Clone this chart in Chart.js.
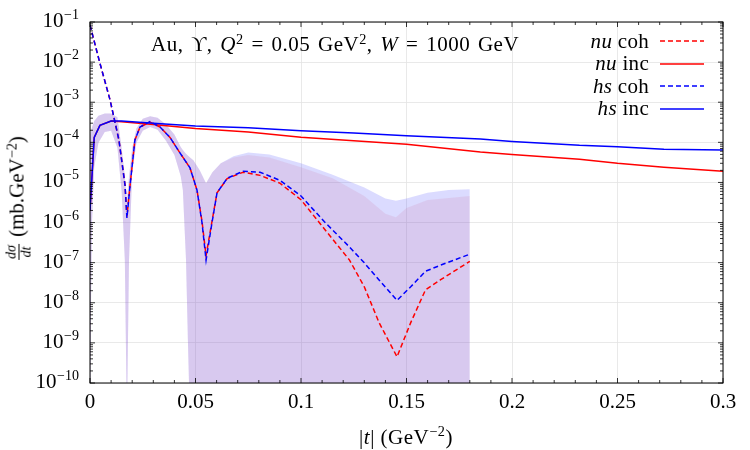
<!DOCTYPE html>
<html>
<head>
<meta charset="utf-8">
<script src="https://cdn.jsdelivr.net/npm/chart.js@4.4.1/dist/chart.umd.min.js"></script>
<style>
body { margin: 0; background: #fff; }
#wrap { position: relative; width: 750px; height: 450px; font-family: "Liberation Serif", serif; color: #000; }
canvas { position: absolute; left: 0; top: 0; }
.txt { position: absolute; white-space: nowrap; font-size: 21px; line-height: 1; }
sup { font-size: 0.68em; vertical-align: 0.5em; line-height: 0; }
#legend { position: absolute; right: 46px; top: 30px; }
.row { display: flex; align-items: center; justify-content: flex-end; height: 22.5px; font-size: 21px; letter-spacing: 0.3px; }
.row svg { margin-left: 11px; }
.frac { display: inline-flex; flex-direction: column; align-items: center; font-size: 14px; vertical-align: middle; margin-right: 7px; }
.frac .num { border-bottom: 1px solid #000; padding: 0 1px; }
</style>
</head>
<body>
<div id="wrap">
  <canvas id="chart" width="750" height="450"></canvas>
  <div class="txt" style="left:151px; top:34px; letter-spacing:0.5px; word-spacing:2px;">Au, ϒ, <i>Q</i><sup>2</sup> = 0.05 GeV<sup>2</sup>, <i>W</i> = 1000 GeV</div>
  <div id="legend">
    <div class="row"><span><i>nu</i> coh</span><svg width="44" height="4"><line x1="0" y1="2" x2="44" y2="2" stroke="#f00" stroke-width="1.5" stroke-dasharray="5,3"/></svg></div>
    <div class="row"><span><i>nu</i> inc</span><svg width="44" height="4"><line x1="0" y1="2" x2="44" y2="2" stroke="#f00" stroke-width="1.5"/></svg></div>
    <div class="row"><span><i>hs</i> coh</span><svg width="44" height="4"><line x1="0" y1="2" x2="44" y2="2" stroke="#00f" stroke-width="1.5" stroke-dasharray="5,3"/></svg></div>
    <div class="row"><span><i>hs</i> inc</span><svg width="44" height="4"><line x1="0" y1="2" x2="44" y2="2" stroke="#00f" stroke-width="1.5"/></svg></div>
  </div>
  <div class="txt" style="left:19px; top:198px; transform: translate(-50%,-50%) rotate(-90deg);"><span class="frac"><span class="num"><i>dσ</i></span><span><i>dt</i></span></span>(mb.GeV<sup>−2</sup>)</div>
  <div class="txt" style="left:406px; top:437px; letter-spacing:0.5px; transform: translate(-50%,-50%);">|<i>t</i>| (GeV<sup>−2</sup>)</div>
</div>
<script>
// axis ticks
const xTicks = [0, 0.05, 0.1, 0.15, 0.2, 0.25, 0.3];
const xTickLabels = ['0', '0.05', '0.1', '0.15', '0.2', '0.25', '0.3'];
const yExponents = [-10, -9, -8, -7, -6, -5, -4, -3, -2, -1];

// coherent curves (same |t| grid)
const tCoh = [0, 0.0047, 0.0095, 0.0137, 0.0166, 0.0175, 0.019, 0.0213, 0.0237, 0.0284, 0.0332, 0.0379, 0.0427, 0.0474, 0.0507, 0.0531, 0.055, 0.0578, 0.0602, 0.065, 0.0725, 0.0806, 0.09, 0.1, 0.111, 0.123, 0.13, 0.137, 0.1455, 0.152, 0.159, 0.166, 0.18];
const hsCoh = [8.4e-2, 9.4e-3, 1.14e-3, 1.15e-4, 8.6e-6, 1.3e-6, 8.6e-6, 1.15e-4, 2.4e-4, 3.3e-4, 2.4e-4, 1.33e-4, 5.4e-5, 2.3e-5, 6.5e-6, 9.8e-7, 1.16e-7, 9.8e-7, 5.5e-6, 1.27e-5, 1.9e-5, 1.8e-5, 1.13e-5, 4.6e-6, 1.06e-6, 2.45e-7, 9.9e-8, 3.7e-8, 1.15e-8, 2.5e-8, 6.1e-8, 8.6e-8, 1.63e-7];
const nuCoh = [8.4e-2, 9.4e-3, 1.14e-3, 1.15e-4, 8.6e-6, 1.42e-6, 8.6e-6, 1.15e-4, 2.4e-4, 3.2e-4, 2.4e-4, 1.33e-4, 5.4e-5, 2.3e-5, 6.5e-6, 1.06e-6, 1.5e-7, 1.06e-6, 5.5e-6, 1.25e-5, 1.8e-5, 1.5e-5, 9.6e-6, 3.7e-6, 7.0e-7, 1.16e-7, 2.5e-8, 3.2e-9, 4.5e-10, 3.2e-9, 2.1e-8, 3.7e-8, 1.08e-7];

// incoherent curves
const tInc = [0, 0.002, 0.0047, 0.01, 0.015, 0.03, 0.05, 0.075, 0.1, 0.125, 0.15, 0.185, 0.2, 0.232, 0.25, 0.272, 0.3];
const hsInc = [2.0e-6, 1.33e-4, 2.65e-4, 3.4e-4, 3.4e-4, 3.0e-4, 2.55e-4, 2.3e-4, 1.94e-4, 1.7e-4, 1.45e-4, 1.21e-4, 1.05e-4, 8.4e-5, 7.8e-5, 6.7e-5, 6.4e-5];
const nuInc = [2.0e-6, 1.33e-4, 2.65e-4, 3.4e-4, 3.25e-4, 2.8e-4, 2.2e-4, 1.8e-4, 1.33e-4, 1.1e-4, 9.0e-5, 5.75e-5, 5.0e-5, 3.8e-5, 3.0e-5, 2.4e-5, 1.9e-5];

// uncertainty bands
const tBand = [0, 0.0005, 0.001, 0.002, 0.004, 0.007, 0.01, 0.013, 0.015, 0.0165, 0.0175, 0.0185, 0.02, 0.022, 0.025, 0.0285, 0.032, 0.036, 0.04, 0.043, 0.044, 0.0455, 0.0464, 0.0474, 0.049, 0.052, 0.055, 0.058, 0.062, 0.068, 0.075, 0.085, 0.1, 0.115, 0.13, 0.14, 0.145, 0.15, 0.16, 0.17, 0.18];
const nuBandHi = [1.45e-4, 1.94e-4, 2.4e-4, 3.4e-4, 4.6e-4, 5.2e-4, 5.2e-4, 4.2e-4, 7.2e-5, 1.43e-5, 3.5e-6, 1.43e-5, 7.2e-5, 2.2e-4, 3.9e-4, 4.5e-4, 4.1e-4, 2.8e-4, 1.57e-4, 7.6e-5, 6.4e-5, 5.2e-5, 4.7e-5, 4.2e-5, 3.6e-5, 2.0e-5, 9.5e-6, 1.8e-5, 3.0e-5, 4.2e-5, 4.8e-5, 4.2e-5, 2.4e-5, 1.27e-5, 4.6e-6, 1.65e-6, 1.35e-6, 2.3e-6, 3.65e-6, 4.1e-6, 4.6e-6];
const hsBandHi = [1.45e-4, 1.94e-4, 2.4e-4, 3.4e-4, 4.6e-4, 5.2e-4, 5.2e-4, 4.2e-4, 7.2e-5, 1.43e-5, 3.5e-6, 1.43e-5, 7.2e-5, 2.2e-4, 3.9e-4, 4.5e-4, 4.1e-4, 2.8e-4, 1.57e-4, 7.6e-5, 6.4e-5, 5.2e-5, 4.7e-5, 4.2e-5, 3.6e-5, 2.0e-5, 9.5e-6, 1.8e-5, 3.0e-5, 4.5e-5, 5.6e-5, 5.0e-5, 3.0e-5, 1.55e-5, 7.5e-6, 4.0e-6, 3.5e-6, 4.0e-6, 5.5e-6, 6.5e-6, 6.8e-6];
const bandLo = [1e-11, 1.13e-8, 1.18e-6, 2.4e-5, 9.7e-5, 1.8e-4, 1.94e-4, 7.2e-5, 5.9e-6, 1.16e-7, 1e-11, 1.16e-7, 1.8e-5, 9.7e-5, 1.94e-4, 2.4e-4, 2.05e-4, 1.09e-4, 4.8e-5, 1.43e-5, 6.5e-6, 1.16e-7, 1.12e-9, 1e-11, 1e-11, 1e-11, 1e-11, 1e-11, 1e-11, 1e-11, 1e-11, 1e-11, 1e-11, 1e-11, 1e-11, 1e-11, 1e-11, 1e-11, 1e-11, 1e-11, 1e-11];

const FONT = '"Liberation Serif", serif';

function pts(ts, vs) {
    return ts.map((t, i) => ({x: t, y: vs[i]}));
}

function line(label, ts, vs, color, dashed, order) {
    return {
        label: label, data: pts(ts, vs), borderColor: color, borderWidth: 1.5,
        borderDash: dashed ? [5, 3] : [], pointRadius: 0, fill: false, tension: 0, order: order
    };
}

// inward ticks on all four sides, the frame, and 10^n labels with a real superscript
const frameTicks = {
    id: 'frameTicks',
    afterDatasetsDraw(chart) {
        const {ctx, chartArea: a, scales: {x, y}} = chart;
        ctx.save();
        ctx.strokeStyle = '#000';
        ctx.lineWidth = 0.8;
        ctx.beginPath();
        for (let k = 0; k <= 30; k++) {
            const px = x.getPixelForValue(k / 100);
            const len = k % 5 === 0 ? 5 : 3;
            ctx.moveTo(px, a.bottom); ctx.lineTo(px, a.bottom - len);
            ctx.moveTo(px, a.top); ctx.lineTo(px, a.top + len);
        }
        yExponents.forEach(e => {
            for (let m = 1; m <= 9; m++) {
                if (e === -1 && m > 1) break;
                const py = y.getPixelForValue(m * Math.pow(10, e));
                const len = m === 1 ? 5 : 3;
                ctx.moveTo(a.left, py); ctx.lineTo(a.left + len, py);
                ctx.moveTo(a.right, py); ctx.lineTo(a.right - len, py);
            }
        });
        ctx.stroke();
        ctx.lineWidth = 1;
        ctx.strokeRect(a.left, a.top, a.width, a.height);

        ctx.fillStyle = '#000';
        ctx.textBaseline = 'alphabetic';
        yExponents.forEach(e => {
            const py = y.getPixelForValue(Math.pow(10, e));
            const sup = '\u2212' + Math.abs(e);
            const right = a.left - 11;
            ctx.font = '14px ' + FONT;
            const ws = ctx.measureText(sup).width;
            ctx.fillText(sup, right - ws, py - 3);
            ctx.font = '21px ' + FONT;
            const wb = ctx.measureText('10').width;
            ctx.fillText('10', right - ws - wb - 0.5, py + 5);
        });
        ctx.restore();
    }
};

const datasets = [
    {label: 'hs band', data: pts(tBand, hsBandHi), borderWidth: 0, pointRadius: 0, fill: '+1', backgroundColor: 'rgba(40,40,255,0.17)', order: 10},
    {label: 'hs band lo', data: pts(tBand, bandLo), borderWidth: 0, pointRadius: 0, fill: false, order: 10},
    {label: 'nu band', data: pts(tBand, nuBandHi), borderWidth: 0, pointRadius: 0, fill: '+1', backgroundColor: 'rgba(200,100,150,0.15)', order: 9},
    {label: 'nu band lo', data: pts(tBand, bandLo), borderWidth: 0, pointRadius: 0, fill: false, order: 9},
    line('nu inc', tInc, nuInc, '#ff0000', false, 3),
    line('nu coh', tCoh, nuCoh, '#ff0000', true, 2),
    line('hs inc', tInc, hsInc, '#0000ff', false, 1),
    line('hs coh', tCoh, hsCoh, '#0000ff', true, 0)
];

new Chart(document.getElementById('chart').getContext('2d'), {
    type: 'line',
    data: {datasets: datasets},
    plugins: [frameTicks],
    options: {
        responsive: false,
        animation: false,
        devicePixelRatio: 1,
        layout: {padding: {top: 22, right: 27, left: 0, bottom: 0}},
        plugins: {legend: {display: false}, tooltip: {enabled: false}},
        scales: {
            x: {
                type: 'linear', min: 0, max: 0.3,
                afterBuildTicks: s => { s.ticks = xTicks.map(v => ({value: v})); },
                afterFit: s => { s.height = 67; },
                ticks: {
                    callback: (v, i) => xTickLabels[i], autoSkip: false, maxRotation: 0,
                    font: {family: FONT, size: 21}, color: '#000', padding: 7
                },
                grid: {color: '#e3e3e3', lineWidth: 0.8, drawTicks: false},
                border: {display: false}
            },
            y: {
                type: 'logarithmic', min: 1e-10, max: 1e-1,
                afterBuildTicks: s => { s.ticks = yExponents.map(e => ({value: Math.pow(10, e)})); },
                afterFit: s => { s.width = 90; },
                ticks: {display: false},
                grid: {color: '#e3e3e3', lineWidth: 0.8, drawTicks: false},
                border: {display: false}
            }
        }
    }
});
</script>
</body>
</html>
